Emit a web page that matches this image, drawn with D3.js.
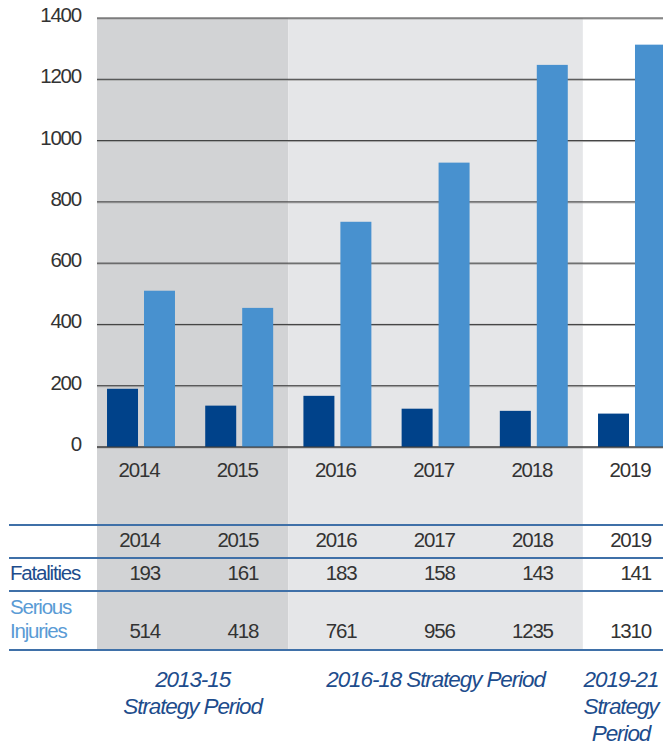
<!DOCTYPE html>
<html>
<head>
<meta charset="utf-8">
<script src="https://cdn.jsdelivr.net/npm/d3@7"></script>
<style>
  body { margin: 0; background: #fff; }
  svg text { font-family: "Liberation Sans Narrow", "Liberation Sans", Arial, sans-serif; letter-spacing: -1.2px; }
</style>
</head>
<body>
<div id="chart"></div>
<script>
const width = 663;
const height = 746;

// data
const years = ["2014", "2015", "2016", "2017", "2018", "2019"];
const fatalityBars = [190, 135, 167, 125, 118, 109];   // bar heights as drawn
const injuryBars = [510, 454, 735, 928, 1247, 1313];
const fatalityTable = [193, 161, 183, 158, 143, 141];  // values printed in table
const injuryTable = [514, 418, 761, 956, 1235, 1310];
const yTicks = [0, 200, 400, 600, 800, 1000, 1200, 1400];
const periodNames = ["2013-15 Strategy Period", "2016-18 Strategy Period", "2019-21 Strategy Period"];
const periodYears = [["2014", "2015"], ["2016", "2017", "2018"], ["2019"]];
const periodLines = [["2013-15", "Strategy Period"], ["2016-18 Strategy Period"], ["2019-21", "Strategy", "Period"]];

const colors = {
    fat: "#00428a",
    inj: "#4891cf",
    shade: ["#d2d3d5", "#e5e6e8", "#ffffff"],
    rule: "#3f70a8",
    text: "#333333"
};

const plotLeft = 97;
const plotTop = 18;
const plotBottom = 447;
const tableTop = 525;
const tableBottom = 650;

const svg = d3.select("#chart")
    .append("svg")
    .attr("width", width)
    .attr("height", height);

const x = d3.scaleBand()
    .domain(years)
    .range([92, 681])
    .paddingInner(0.308)
    .paddingOuter(0.153);

const xs = d3.scaleBand()
    .domain(["fat", "inj"])
    .range([0, x.bandwidth()])
    .paddingInner(0.162);

const y = d3.scaleLinear()
    .domain([0, 1400])
    .range([plotBottom, plotTop]);

const gap = x.step() * x.paddingInner();

// shaded strategy periods
const periods = periodNames.map((name, i) => {
    const ys = periodYears[i];
    let x0 = x(ys[0]) - gap / 2;
    let x1 = x(ys[ys.length - 1]) + x.bandwidth() + gap / 2;
    return { name: name, lines: periodLines[i], shade: colors.shade[i],
        x0: Math.max(plotLeft, x0), x1: Math.min(width, x1) };
});

svg.selectAll(".shade")
    .data(periods)
    .enter()
    .append("rect")
    .attr("class", "shade")
    .attr("x", d => d.x0)
    .attr("y", plotTop)
    .attr("width", d => d.x1 - d.x0)
    .attr("height", tableBottom - plotTop)
    .attr("fill", d => d.shade);

// gridlines
svg.selectAll(".grid-shadow")
    .data(yTicks)
    .enter()
    .append("line")
    .attr("x1", plotLeft)
    .attr("x2", width)
    .attr("y1", d => y(d) + 1)
    .attr("y2", d => y(d) + 1)
    .attr("stroke", "#aaa")
    .attr("stroke-width", 1);

svg.selectAll(".grid")
    .data(yTicks)
    .enter()
    .append("line")
    .attr("class", "grid")
    .attr("x1", plotLeft)
    .attr("x2", width)
    .attr("y1", d => y(d))
    .attr("y2", d => y(d))
    .attr("stroke", "#3a3a3a")
    .attr("stroke-width", 1);

// bars
const groups = svg.selectAll(".year")
    .data(years)
    .enter()
    .append("g")
    .attr("class", "year")
    .attr("transform", d => "translate(" + x(d) + ",0)");

groups.append("rect")
    .attr("x", xs("fat"))
    .attr("width", xs.bandwidth())
    .attr("y", (d, i) => y(fatalityBars[i]))
    .attr("height", (d, i) => y(0) - y(fatalityBars[i]))
    .attr("fill", colors.fat);

groups.append("rect")
    .attr("x", xs("inj"))
    .attr("width", xs.bandwidth())
    .attr("y", (d, i) => y(injuryBars[i]))
    .attr("height", (d, i) => y(0) - y(injuryBars[i]))
    .attr("fill", colors.inj);

// baseline on top of bars
svg.append("line")
    .attr("x1", plotLeft)
    .attr("x2", width)
    .attr("y1", y(0))
    .attr("y2", y(0))
    .attr("stroke", "#3a3a3a")
    .attr("stroke-width", 1.2);

// y axis
const yAxis = svg.append("g")
    .attr("transform", "translate(" + plotLeft + ",0)")
    .call(d3.axisLeft(y).tickValues(yTicks).tickSize(0).tickPadding(16).tickFormat(d3.format("d")));
yAxis.select(".domain").remove();
yAxis.selectAll("text")
    .attr("dy", "0.17em")
    .style("font-size", "20.5px")
    .attr("fill", colors.text);

// x axis labels
svg.selectAll(".xlab")
    .data(years)
    .enter()
    .append("text")
    .attr("x", d => x(d) + x.bandwidth() / 2 - 2)
    .attr("y", 477)
    .attr("text-anchor", "middle")
    .style("font-size", "20.5px")
    .attr("fill", colors.text)
    .text(d => d);

// table
const ruleYs = [tableTop, 558, 591, tableBottom];
svg.selectAll(".rule")
    .data(ruleYs)
    .enter()
    .append("line")
    .attr("x1", 9)
    .attr("x2", width)
    .attr("y1", d => d)
    .attr("y2", d => d)
    .attr("stroke", colors.rule)
    .attr("stroke-width", 2);

const colRight = d => x(d) + x.bandwidth() / 2 + 19;
const rows = [
    { vals: years, yPos: 547 },
    { vals: fatalityTable, yPos: 580 },
    { vals: injuryTable, yPos: 638 }
];
rows.forEach(r => {
    svg.selectAll(null)
        .data(r.vals)
        .enter()
        .append("text")
        .attr("x", (d, i) => colRight(years[i]))
        .attr("y", r.yPos)
        .attr("text-anchor", "end")
        .style("font-size", "20.5px")
        .attr("fill", colors.text)
        .text(d => d);
});

svg.append("text")
    .attr("x", 10)
    .attr("y", 580)
    .style("font-size", "20.5px")
    .attr("fill", "#1d4c8c")
    .text("Fatalities");

svg.append("text")
    .attr("x", 10)
    .attr("y", 614)
    .style("font-size", "20.5px")
    .attr("fill", "#5a9bd5")
    .text("Serious");

svg.append("text")
    .attr("x", 10)
    .attr("y", 638)
    .style("font-size", "20.5px")
    .attr("fill", "#5a9bd5")
    .text("Injuries");

// period labels
const plab = svg.selectAll(".plab")
    .data(periods)
    .enter()
    .append("text")
    .attr("class", "plab")
    .attr("text-anchor", "middle")
    .style("font-size", "22.5px")
    .style("font-style", "italic")
    .style("letter-spacing", "-1.1px")
    .attr("fill", "#1d4c8c");

plab.selectAll("tspan")
    .data(d => d.lines.map(l => ({ line: l, cx: Math.min((d.x0 + d.x1) / 2, 621) })))
    .enter()
    .append("tspan")
    .attr("x", d => d.cx)
    .attr("y", (d, i) => 687 + i * 27)
    .text(d => d.line);
</script>
</body>
</html>
